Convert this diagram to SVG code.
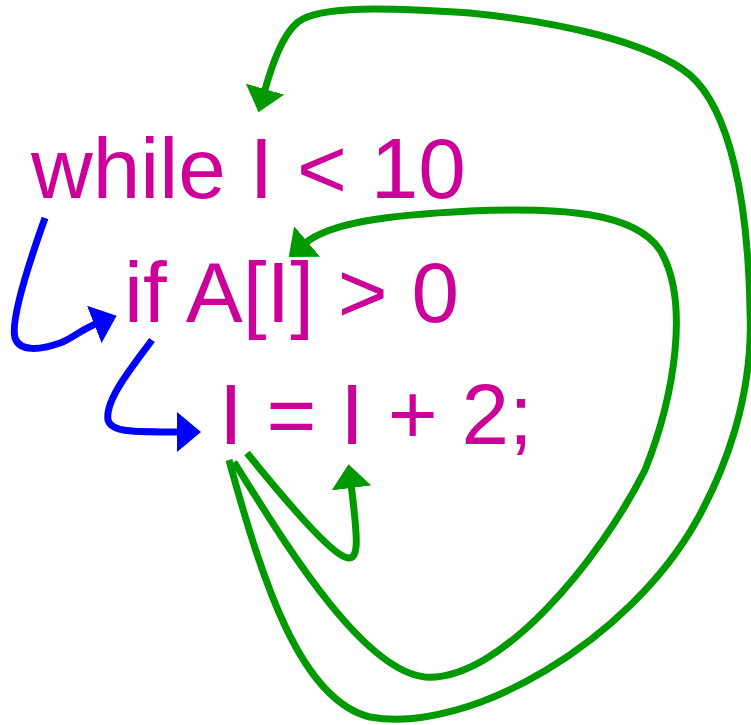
<svg xmlns="http://www.w3.org/2000/svg" width="751" height="725" viewBox="0 0 751 725">
  <style>
    .code { font-family: "Liberation Sans", Arial, sans-serif; font-size: 85.5px; fill: #CC0099; }
    .g { fill: none; stroke: #009900; stroke-width: 7; stroke-linecap: butt; marker-end: url(#ahG); }
    .b { fill: none; stroke: #0000FF; stroke-width: 7; stroke-linecap: butt; marker-end: url(#ahB); }
  </style>
  <defs>
    <marker id="ahG" markerUnits="userSpaceOnUse" viewBox="0 0 24 40" markerWidth="24" markerHeight="40" refX="4" refY="20" orient="auto">
      <path d="M0,0 L24,20 L0,40 Z" fill="#009900"/>
    </marker>
    <marker id="ahB" markerUnits="userSpaceOnUse" viewBox="0 0 24 40" markerWidth="24" markerHeight="40" refX="4" refY="20" orient="auto">
      <path d="M0,0 L24,20 L0,40 Z" fill="#0000FF"/>
    </marker>
  </defs>
  <rect width="751" height="725" fill="#FFFFFF"/>
  <g id="while-line"><text class="code" x="31" y="198">while I &lt; 10</text></g>
  <g id="if-line"><text class="code" x="124" y="322">if A[I] &gt; 0</text></g>
  <g id="assign-line"><text class="code" x="219" y="444">I = I + 2;</text></g>
  <g id="connectors">
    <path class="b" d="M45 218 C30 260, 10 320, 15 338 C20 352, 40 350, 60 343 C72 339, 80 330, 98 323"/>
    <path class="b" d="M152 340 C130 370, 105 400, 108 420 C111 432, 130 432, 181 432"/>
    <path class="g" d="M247 453 C285 500, 330 552, 345 557 C360 563, 358 540, 351 484"/>
    <path class="g" d="M234 462 C280 535, 360 670, 425 677 C500 682, 600 560, 645 470 C675 395, 690 300, 660 250 C635 212, 560 207, 470 211 C390 215, 330 222, 304 244"/>
    <path class="g" d="M229 460 C262 580, 300 700, 370 717 C470 735, 630 640, 697 520 C722 475, 754 400, 750 310 C748 200, 730 110, 690 75 C650 42, 560 22, 470 13 C390 8, 320 5, 298 22 C282 35, 272 65, 264 93"/>
  </g>
</svg>
